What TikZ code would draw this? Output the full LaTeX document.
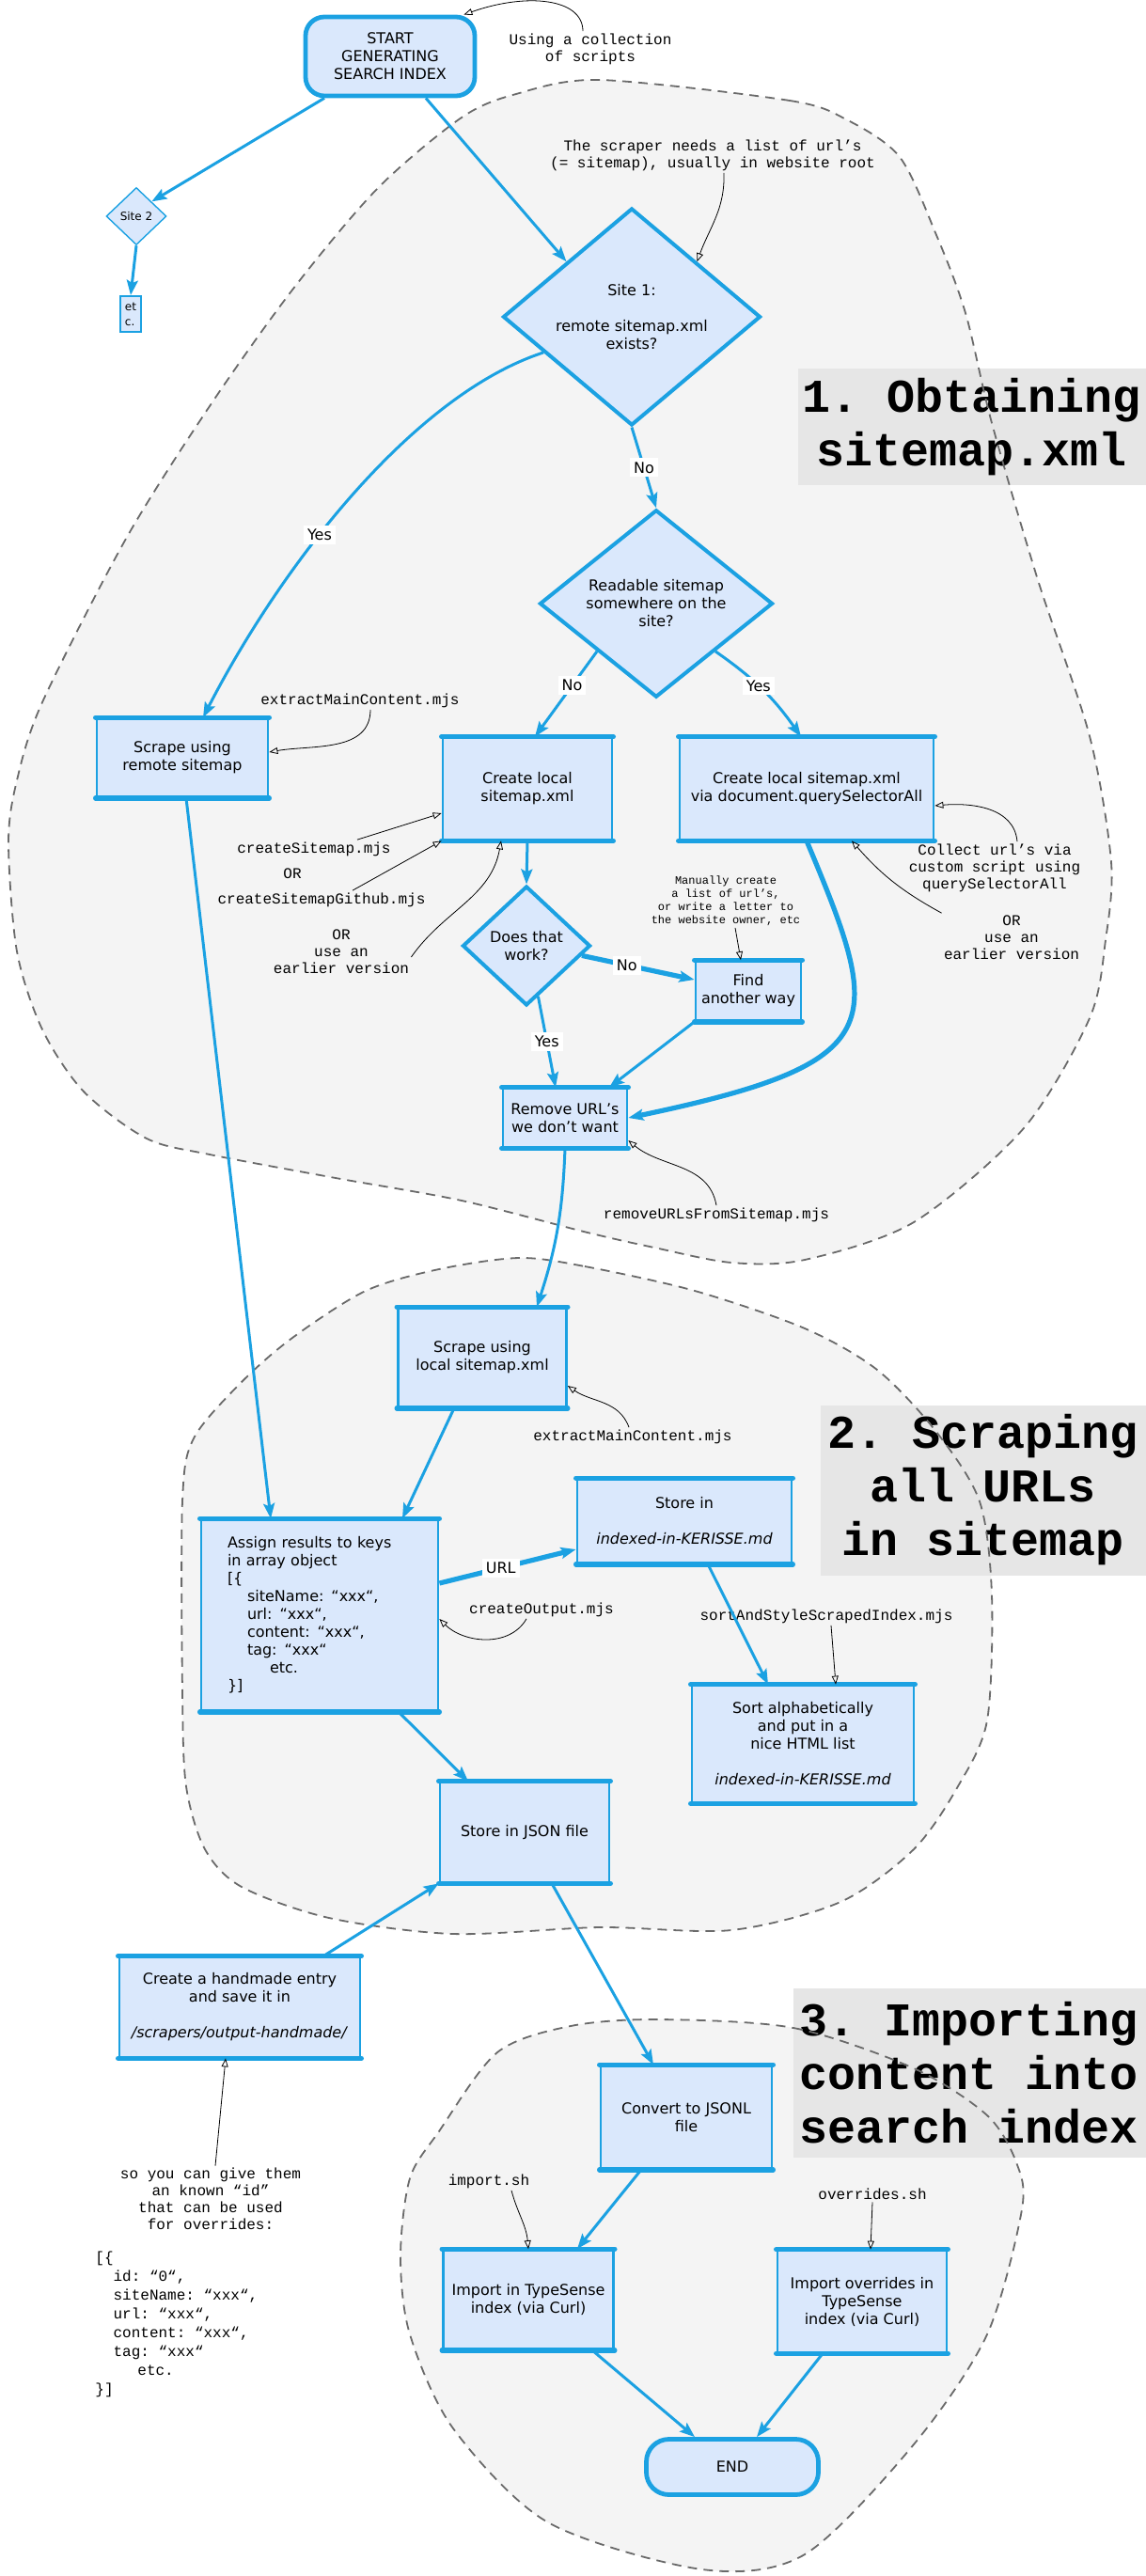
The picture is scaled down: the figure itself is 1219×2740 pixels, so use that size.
\documentclass[tikz,border=0pt]{standalone}
\usepackage{fontspec}
\setmainfont{DejaVu Sans}
\setmonofont{Liberation Mono}
\usepackage{tikz}
\usetikzlibrary{shapes.geometric,arrows.meta}

\definecolor{flowblue}{HTML}{1BA1E2}
\definecolor{boxfill}{HTML}{DAE8FC}
\definecolor{blobfill}{HTML}{F4F4F4}
\definecolor{blobline}{HTML}{6A6A6A}
\definecolor{labelgray}{HTML}{E6E6E6}

\tikzset{
  boxtext/.style={font=\fontsize{8}{9.5}\selectfont},
  boxbar/.style={draw=flowblue, line width=2.6pt, line cap=round, -},
  procbox/.style={draw=flowblue, fill=boxfill, line width=1.4pt, align=center, boxtext, inner sep=2pt,
    append after command={(\tikzlastnode.north west) edge[boxbar] (\tikzlastnode.north east)
      (\tikzlastnode.south west) edge[boxbar] (\tikzlastnode.south east)}},
  termbox/.style={draw=flowblue, fill=boxfill, line width=2.4pt, rounded corners=10pt, align=center, boxtext},
  decision/.style={diamond, draw=flowblue, fill=boxfill, line width=2pt, inner sep=0pt, align=center, boxtext},
  flow/.style={draw=flowblue, line width=1.5pt, -{Stealth[length=8pt,width=6pt,inset=1.5pt]}},
  flowthick/.style={flow, line width=2.6pt},
  edgelabel/.style={fill=white, boxtext, inner sep=2pt},
  note/.style={font=\ttfamily\fontsize{8}{9}\selectfont, align=center, inner sep=1pt},
  noteline/.style={draw=black, line width=0.4pt, -{Triangle[open,length=4.5pt,width=3.5pt]}},
  grouplabel/.style={fill=labelgray, font=\ttfamily\bfseries\fontsize{25}{28.5}\selectfont, align=center, inner sep=0pt},
  groupedge/.style={draw=blobline, line width=0.9pt, dash pattern=on 5pt off 3.5pt},
}

\begin{document}
\begin{tikzpicture}[x=0.5pt, y=-0.5pt]
\useasboundingbox (0,0) rectangle (1219,2740);

% the three stages
\path[save path=\blobone] plot[smooth cycle] coordinates {(638,85) (840,107) (900,127) (957,167) (996,250) (1027,333) (1055,450) (1104,617) (1159,783) (1182,917) (1176,1000) (1159,1083) (1089,1200) (972,1300) (856,1340) (778,1343) (696,1327) (625,1311) (491,1277) (357,1253) (223,1228) (156,1211) (89,1161) (45,1095) (18,1012) (9,896) (18,830) (45,747) (134,573) (223,432) (312,307) (402,200) (491,125) (549,100)};
\path[save path=\blobtwo] plot[smooth cycle] coordinates {(552,1338) (622,1347) (739,1373) (856,1413) (933,1457) (996,1523) (1042,1597) (1055,1697) (1050,1830) (1019,1900) (972,1967) (894,2023) (778,2053) (638,2050) (482,2057) (350,2040) (257,2007) (218,1967) (198,1900) (194,1800) (194,1597) (206,1530) (257,1470) (311,1423) (389,1373) (467,1350)};
\path[save path=\blobthree] plot[smooth cycle] coordinates {(700,2148) (844,2157) (972,2200) (1050,2250) (1081,2300) (1087,2350) (1050,2483) (972,2600) (856,2717) (747,2733) (583,2683) (482,2583) (436,2483) (426,2400) (436,2317) (467,2267) (529,2183) (607,2155)};
\fill[blobfill, use path=\blobone];
\fill[blobfill, use path=\blobtwo];
\fill[blobfill, use path=\blobthree];

\node[grouplabel, minimum width=185pt, minimum height=62pt] (title1) at (1034,454) {1. Obtaining\\sitemap.xml};
\node[grouplabel, minimum width=173pt, minimum height=90.5pt] (title2) at (1046,1585) {2. Scraping\\all URLs\\in sitemap};
\node[grouplabel, minimum width=187.5pt, minimum height=90pt] (title3) at (1031,2205) {3. Importing\\content into\\search index};

\path[groupedge, use path=\blobone];
\path[groupedge, use path=\blobtwo];
\path[groupedge, use path=\blobthree];

% steps
\node[termbox, minimum width=90pt, minimum height=42pt] (start) at (415,60) {START\\GENERATING\\SEARCH INDEX};
\node[decision, minimum width=32pt, minimum height=30.5pt, line width=0.7pt, font=\fontsize{6}{7}\selectfont] (site2) at (145,230) {Site 2};
\node[draw=flowblue, fill=boxfill, line width=1pt, minimum width=11pt, minimum height=19pt, inner sep=1pt, align=left, font=\fontsize{6}{8}\selectfont] (etc) at (139,334) {et\\c.};
\node[decision, minimum width=137pt, minimum height=115.5pt] (site1) at (672,337) {Site 1:\\~\\remote sitemap.xml\\exists?};
\node[decision, minimum width=124pt, minimum height=94pt] (readable) at (698,642) {Readable sitemap\\somewhere on the\\site?};
\node[procbox, minimum width=91pt, minimum height=41.5pt] (scraperemote) at (194,806) {Scrape using\\remote sitemap};
\node[procbox, minimum width=90pt, minimum height=54pt] (createlocal) at (561,839) {Create local\\sitemap.xml};
\node[procbox, minimum width=135pt, minimum height=54pt] (createqsa) at (858,839) {Create local sitemap.xml\\via document.querySelectorAll};
\node[decision, minimum width=68pt, minimum height=63.5pt] (does) at (560,1006) {Does that\\work?};
\node[procbox, minimum width=56pt, minimum height=31.5pt] (find) at (796,1054) {Find\\another way};
\node[procbox, minimum width=66pt, minimum height=31pt] (remove) at (601,1189) {Remove URL’s\\we don’t want};
\node[procbox, minimum width=89.5pt, minimum height=52.5pt] (scrapelocal) at (513,1444) {Scrape using\\local sitemap.xml};
\node[procbox, minimum height=101.5pt, align=left, text width=98pt, inner xsep=14pt] (assign) at (340,1718) {Assign results to keys\\in array object\\{[}\{\\\hspace*{10.5pt}siteName: “xxx“,\\\hspace*{10.5pt}url: “xxx“,\\\hspace*{10.5pt}content: “xxx“,\\\hspace*{10.5pt}tag: “xxx“\\\hspace*{22.5pt}etc.\\\}]};
\node[procbox, minimum width=114pt, minimum height=44.5pt] (storein) at (728,1618) {Store in\\~\\\textit{indexed-in-KERISSE.md}};
\node[procbox, minimum width=118pt, minimum height=62pt] (sort) at (854,1855) {Sort alphabetically\\and put in a\\nice HTML list\\~\\\textit{indexed-in-KERISSE.md}};
\node[procbox, minimum width=90pt, minimum height=53pt] (storejson) at (558,1949) {Store in JSON file};
\node[procbox, minimum width=128pt, minimum height=53pt] (handmade) at (255,2135) {Create a handmade entry\\and save it in\\~\\\textit{/scrapers/output-handmade/}};
\node[procbox, minimum width=91pt, minimum height=54.5pt] (convert) at (730,2252) {Convert to JSONL\\file};
\node[procbox, minimum width=90.5pt, minimum height=52.5pt] (import) at (562,2446) {Import in TypeSense\\index (via Curl)};
\node[procbox, minimum width=90pt, minimum height=54pt] (overrides) at (917,2448) {Import overrides in\\TypeSense\\index (via Curl)};
\node[termbox, minimum width=91.5pt, minimum height=29.5pt, rounded corners=12pt] (endnode) at (779,2624) {END};

% comments
\node[note] (usingnote) at (628,52) {Using a collection\\of scripts};
\node[note] (scrapernote) at (758,165) {The scraper needs a list of url’s\\(= sitemap), usually in website root};
\node[note] (extractnoteA) at (383,745) {extractMainContent.mjs};
\node[note] (csmnote) at (334,903) {createSitemap.mjs};
\node[note] (ornote) at (311,929) {OR};
\node[note] (csmgnote) at (342,957) {createSitemapGithub.mjs};
\node[note] (olderleft) at (363,1012) {OR\\use an\\earlier version};
\node[note] (collectnote) at (1058,923) {Collect url’s via\\custom script using\\querySelectorAll};
\node[note] (olderright) at (1076,997) {OR\\use an\\earlier version};
\node[note, font=\ttfamily\fontsize{6}{7}\selectfont] (manualnote) at (772,958) {Manually create\\a list of url’s,\\or write a letter to\\the website owner, etc};
\node[note] (removenote) at (762,1292) {removeURLsFromSitemap.mjs};
\node[note] (extractnoteB) at (673,1528) {extractMainContent.mjs};
\node[note] (outputnote) at (576,1712) {createOutput.mjs};
\node[note] (sortnote) at (879,1719) {sortAndStyleScrapedIndex.mjs};
\node[note] (idnote) at (224,2339) {so you can give them\\an known “id”\\that can be used\\for overrides:};
\node[note, anchor=west, align=left, font=\ttfamily\fontsize{8}{10}\selectfont] (codenote) at (99,2472) {{[}\{\\\hspace*{9.6pt}id: “0“,\\\hspace*{9.6pt}siteName: “xxx“,\\\hspace*{9.6pt}url: “xxx“,\\\hspace*{9.6pt}content: “xxx“,\\\hspace*{9.6pt}tag: “xxx“\\\hspace*{22.5pt}etc.\\\}]};
\node[note] (importnote) at (520,2320) {import.sh};
\node[note] (overridenote) at (928,2334) {overrides.sh};

% flow
\draw[flow] ([xshift=-35pt]start.south) -- (site2.north east);
\draw[flow] ([xshift=19pt]start.south) -- (site1.north west);
\draw[flow] (site2.south) -- (etc.north);
\draw[flow] (site1.south) -- node[edgelabel] {No} (readable.north);
\draw[flow] (site1.202) .. controls (440,420) and (300,600) .. node[edgelabel, pos=0.6] {Yes} ([xshift=11pt]scraperemote.north);
\draw[flow] (readable.south west) -- node[edgelabel, pos=0.4] {No} ([xshift=4pt]createlocal.north);
\draw[flow] (readable.south east) to[bend left=10] node[edgelabel, pos=0.45] {Yes} ([xshift=-3pt]createqsa.north);
\draw[flow] (createlocal.south) -- (does.north);
\draw[flowthick] (does.-10) -- node[edgelabel, pos=0.4] {No} ([yshift=6pt]find.west);
\draw[flow] (does.-77) -- node[edgelabel] {Yes} ([xshift=-5pt]remove.north);
\draw[flow] (find.south west) -- ([xshift=23.5pt]remove.north);
\draw[flowthick] (createqsa.south) .. controls (940,1090) and (950,1130) .. (remove.east);
\draw[flow] (remove.south) to[bend left=8] ([xshift=29pt]scrapelocal.north);
\draw[flow] ([xshift=2pt]scraperemote.south) -- ([xshift=-26pt]assign.north);
\draw[flow] ([xshift=-15pt]scrapelocal.south) -- ([xshift=44pt]assign.north);
\draw[flowthick] ([yshift=17pt]assign.east) -- node[edgelabel, pos=0.45] {URL} ([yshift=-15pt]storein.west);
\draw[flow] ([xshift=12.5pt]storein.south) -- ([xshift=-18.5pt]sort.north);
\draw[flow] ([xshift=42pt]assign.south) -- ([xshift=-30pt]storejson.north);
\draw[flow] ([xshift=44.5pt]handmade.north) -- (storejson.south west);
\draw[flow] ([xshift=14.5pt]storejson.south) -- ([xshift=-17.5pt]convert.north);
\draw[flow] ([xshift=-24pt]convert.south) -- ([xshift=26pt]import.north);
\draw[flow] ([xshift=34pt]import.south) -- ([xshift=-20pt]endnode.north);
\draw[flow] ([xshift=-21pt]overrides.south) -- ([xshift=13pt]endnode.north);

% comment pointers
\draw[noteline] ([xshift=-4pt]usingnote.north) .. controls (620,-2) and (560,-8) .. ([xshift=-7pt]start.north east);
\draw[noteline] ([xshift=6pt]scrapernote.south) to[out=-88, in=70] (site1.north east);
\draw[noteline] ([xshift=5.5pt]extractnoteA.south) to[out=-90, in=10] ([yshift=3pt]scraperemote.east);
\draw[noteline] ([xshift=23pt]csmnote.north) -- ([yshift=-13pt]createlocal.west);
\draw[noteline] ([xshift=16.5pt]csmgnote.north) -- (createlocal.south west);
\draw[noteline] ([yshift=-3pt]olderleft.east) to[out=55, in=-100] ([xshift=-14pt]createlocal.south);
\draw[noteline] ([xshift=12pt]collectnote.north) to[out=95, in=5] ([yshift=-9pt]createqsa.east);
\draw[noteline] (olderright.north west) to[bend left=10] ([xshift=24pt]createqsa.south);
\draw[noteline] ([xshift=5pt]manualnote.south) -- ([xshift=-4pt]find.north);
\draw[noteline] (removenote.north) to[out=100, in=-40] ([yshift=-12pt]remove.east);
\draw[noteline] ([xshift=-2pt]extractnoteB.north) to[out=110, in=-35] ([yshift=-15pt]scrapelocal.east);
\draw[noteline] ([xshift=-8pt]outputnote.south) to[out=-120, in=-45] ([yshift=-2pt]assign.east);
\draw[noteline] ([xshift=2.5pt]sortnote.south) -- ([xshift=17.5pt]sort.north);
\draw[noteline] ([xshift=2.5pt]idnote.north) -- ([xshift=-7.5pt]handmade.south);
\draw[noteline] ([xshift=12pt]importnote.south) to[out=-75, in=95] (import.north);
\draw[noteline] (overridenote.south) -- ([xshift=4.5pt]overrides.north);
\end{tikzpicture}
\end{document}
